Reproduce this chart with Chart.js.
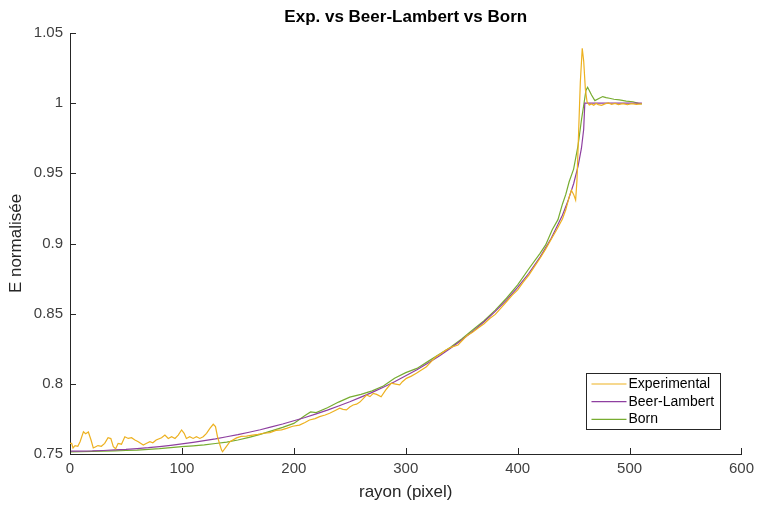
<!DOCTYPE html>
<html><head><meta charset="utf-8">
<script src="https://cdn.jsdelivr.net/npm/chart.js@4.4.0/dist/chart.umd.min.js"></script>
<style>html,body{margin:0;padding:0;background:#fff}#wrap{width:760px;height:507px}</style>
</head><body><div id="wrap"><canvas id="c" width="760" height="507"></canvas></div>
<script>
const titleText = "Exp. vs Beer-Lambert vs Born";
const xLabel = "rayon (pixel)";
const yLabel = "E normalisée";
const seriesNames = ["Experimental", "Beer-Lambert", "Born"];
const seriesColors = ["#EDB120", "#8E3FA0", "#77AC30"];
const xTicks = [0, 100, 200, 300, 400, 500, 600];
const yTicks = [0.75, 0.8, 0.85, 0.9, 0.95, 1, 1.05];

const expX = [0,1.5,2.7,4.5,7,9,12,14,16.4,18.8,20.8,23,25,28,31,34,36.5,38.7,40.8,43,46,49,52,55,58,61,65.5,68.5,71.4,74,77,81.8,84.8,87.8,90.8,93.8,96.7,99.7,102,104,107,110,113,116,119,122,125,128,130,131.8,134,135.4,136.3,139,142.9,148.8,153,157.7,163,168,173,178.6,184,189,193.5,199,205,210,214,219,223,228,232,237,241,244,247,250,253,256,259,262,265,268,271,274,278,282,287,291,294.6,297,300.6,305,309.5,314,318.5,323,327,331,336,341,346.7,350,355,360,365,370,375,380,385,390,395,400,405,410,415,420,425,430,435,440,443,446,448,450,451.8,453,454.5,456,457.7,459,460.5,462,464,466,468,470,472,475,478,481,484,487,490,494,498,502,506,511];
const expY = [0.7575,0.7576,0.7543,0.756,0.7555,0.7588,0.7659,0.7645,0.7657,0.76,0.7543,0.7552,0.756,0.7555,0.7576,0.7616,0.761,0.7552,0.7537,0.7576,0.757,0.7623,0.7611,0.7616,0.76,0.7588,0.7564,0.7576,0.7588,0.758,0.76,0.7616,0.7635,0.7611,0.7623,0.7611,0.7635,0.7671,0.7647,0.7611,0.7623,0.7611,0.7623,0.7611,0.7623,0.7647,0.7683,0.7712,0.7695,0.7623,0.7564,0.7528,0.7516,0.7545,0.7588,0.7615,0.7625,0.7628,0.7635,0.764,0.7648,0.7652,0.7668,0.7672,0.7683,0.7698,0.7706,0.7725,0.7742,0.7752,0.7766,0.7778,0.779,0.781,0.7826,0.7818,0.7814,0.7835,0.7849,0.7855,0.787,0.7895,0.792,0.7909,0.7932,0.7925,0.7908,0.7955,0.8004,0.7998,0.7992,0.8015,0.8039,0.8055,0.8075,0.8098,0.8122,0.816,0.8193,0.8212,0.8241,0.8262,0.8277,0.8305,0.8345,0.837,0.84,0.8428,0.8465,0.8495,0.854,0.8585,0.863,0.867,0.8725,0.8775,0.8835,0.8895,0.896,0.903,0.91,0.9175,0.924,0.933,0.938,0.935,0.931,0.945,0.98,1.015,1.0391,1.03,1.01,1.001,0.9987,0.9995,0.9985,0.9998,0.999,0.9985,0.9995,1.0002,0.9992,0.9998,0.999,0.9996,0.9989,0.9997,0.9992,0.9995];

const blX = [0,10,20,30,40,50,60,70,80,90,100,110,120,130,140,150,160,170,180,190,200,210,220,230,240,250,260,270,280,290,300,310,320,330,340,350,360,370,380,390,400,410,420,430,440,445,450,454,457,459,460,511];
const blY = [0.752,0.7521,0.7522,0.7525,0.7529,0.7533,0.7539,0.7545,0.7553,0.7562,0.7572,0.7583,0.7595,0.7608,0.7623,0.7638,0.7655,0.7673,0.7693,0.7714,0.7737,0.776,0.7786,0.7813,0.7842,0.7872,0.7905,0.7939,0.7976,0.8015,0.8057,0.8101,0.8149,0.8199,0.8253,0.8312,0.8374,0.8442,0.8516,0.8597,0.8687,0.8788,0.8903,0.9037,0.9202,0.9304,0.9426,0.9551,0.9679,0.9814,1.0,1.0];

const bornX = [0,10,20,30,40,50,60,70,80,90,100,110,120,130,140,150,160,170,180,190,200,210,215,220,230,240,250,260,270,280,290,300,310,320,330,340,350,360,370,380,390,400,410,420,425,431,436,440,443,446,450,454,457,459.5,461,462.5,464,466,469,473,476,479,482,486,491,497,503,508,511];
const bornY = [0.7515,0.7516,0.7518,0.752,0.7522,0.7525,0.7528,0.7533,0.7538,0.7545,0.7552,0.7558,0.7565,0.7575,0.7585,0.76,0.7618,0.764,0.7665,0.769,0.7718,0.7775,0.78,0.7795,0.783,0.787,0.7905,0.7925,0.795,0.7985,0.804,0.808,0.811,0.816,0.821,0.826,0.832,0.8385,0.845,0.8525,0.861,0.8705,0.882,0.893,0.899,0.91,0.917,0.928,0.935,0.944,0.953,0.9700,0.9880,1.001,1.009,1.0113,1.009,1.0058,1.0018,1.0035,1.0047,1.004,1.0035,1.0028,1.0023,1.0015,1.001,0.9998,0.9994];

function pts(xs, ys) { return xs.map((x, i) => ({ x: x, y: ys[i] })); }

const FONT = '"Liberation Sans", Arial, sans-serif';
const AXIS_COLOR = '#262626';
const TICK_COLOR = '#404040';

const inwardTicks = {
  id: 'inwardTicks',
  afterDatasetsDraw(chart) {
    const ctx = chart.ctx, a = chart.chartArea;
    const xs = chart.scales.x, ys = chart.scales.y;
    ctx.save();
    ctx.strokeStyle = AXIS_COLOR; ctx.lineWidth = 1;
    ctx.beginPath();
    xTicks.forEach(v => { const p = Math.round(xs.getPixelForValue(v)) + 0.5; ctx.moveTo(p, a.bottom); ctx.lineTo(p, a.bottom - 6); });
    yTicks.forEach(v => { const p = Math.round(ys.getPixelForValue(v)) + 0.5; ctx.moveTo(a.left, p); ctx.lineTo(a.left + 6, p); });
    ctx.stroke();
    ctx.restore();
  }
};

const boxLegend = {
  id: 'boxLegend',
  afterDraw(chart) {
    const ctx = chart.ctx, a = chart.chartArea;
    const w = 134, h = 56;
    const x0 = a.right - 21 - w, y0 = a.bottom - 25 - h;
    ctx.save();
    ctx.fillStyle = '#fff';
    ctx.fillRect(x0, y0, w, h);
    ctx.strokeStyle = '#262626'; ctx.lineWidth = 1;
    ctx.strokeRect(Math.round(x0) + 0.5, Math.round(y0) + 0.5, w, h);
    ctx.font = '14px ' + FONT;
    ctx.textBaseline = 'middle';
    chart.data.datasets.forEach((ds, i) => {
      const yy = y0 + 11 + i * 17.7;
      ctx.strokeStyle = ds.borderColor; ctx.lineWidth = 1.2;
      ctx.beginPath(); ctx.moveTo(x0 + 5, yy); ctx.lineTo(x0 + 40, yy); ctx.stroke();
      ctx.fillStyle = '#000';
      ctx.fillText(ds.label, x0 + 42, yy);
    });
    ctx.restore();
  }
};

new Chart(document.getElementById('c'), {
  type: 'scatter',
  data: {
    datasets: [
      { label: seriesNames[0], data: pts(expX, expY), borderColor: seriesColors[0], backgroundColor: seriesColors[0] },
      { label: seriesNames[1], data: pts(blX, blY), borderColor: seriesColors[1], backgroundColor: seriesColors[1] },
      { label: seriesNames[2], data: pts(bornX, bornY), borderColor: seriesColors[2], backgroundColor: seriesColors[2] }
    ].map(d => Object.assign(d, { showLine: true, pointRadius: 0, borderWidth: 1.2, tension: 0 }))
  },
  options: {
    responsive: false,
    animation: false,
    devicePixelRatio: 1,
    layout: { padding: { top: 0, right: 18, left: 0, bottom: 0 } },
    plugins: {
      legend: { display: false },
      tooltip: { enabled: false },
      title: {
        display: true, text: titleText, fullSize: false, color: '#000',
        font: { family: FONT, size: 17, weight: 'bold' },
        padding: { top: 7, bottom: 5.6 }
      }
    },
    scales: {
      x: {
        type: 'linear', min: 0, max: 600,
        afterBuildTicks: s => { s.ticks = xTicks.map(v => ({ value: v })); },
        afterFit: s => { s.height = 53; },
        grid: { display: true, drawOnChartArea: false, drawTicks: false },
        border: { display: true, color: AXIS_COLOR, width: 1 },
        ticks: { padding: 6, color: TICK_COLOR, font: { family: FONT, size: 15 }, maxRotation: 0, callback: v => String(v) },
        title: { display: true, text: xLabel, color: AXIS_COLOR, font: { family: FONT, size: 17 }, padding: { top: 4, bottom: 4 } }
      },
      y: {
        type: 'linear', min: 0.75, max: 1.05,
        afterBuildTicks: s => { s.ticks = yTicks.map(v => ({ value: v })); },
        afterFit: s => { s.width = 70; },
        grid: { display: true, drawOnChartArea: false, drawTicks: false },
        border: { display: true, color: AXIS_COLOR, width: 1 },
        ticks: { padding: 7, color: TICK_COLOR, font: { family: FONT, size: 15 }, callback: v => String(+(+v).toFixed(2)) },
        title: { display: true, text: yLabel, color: AXIS_COLOR, font: { family: FONT, size: 17 }, padding: { top: 6, bottom: 2 } }
      }
    }
  },
  plugins: [inwardTicks, boxLegend]
});
</script></body></html>
